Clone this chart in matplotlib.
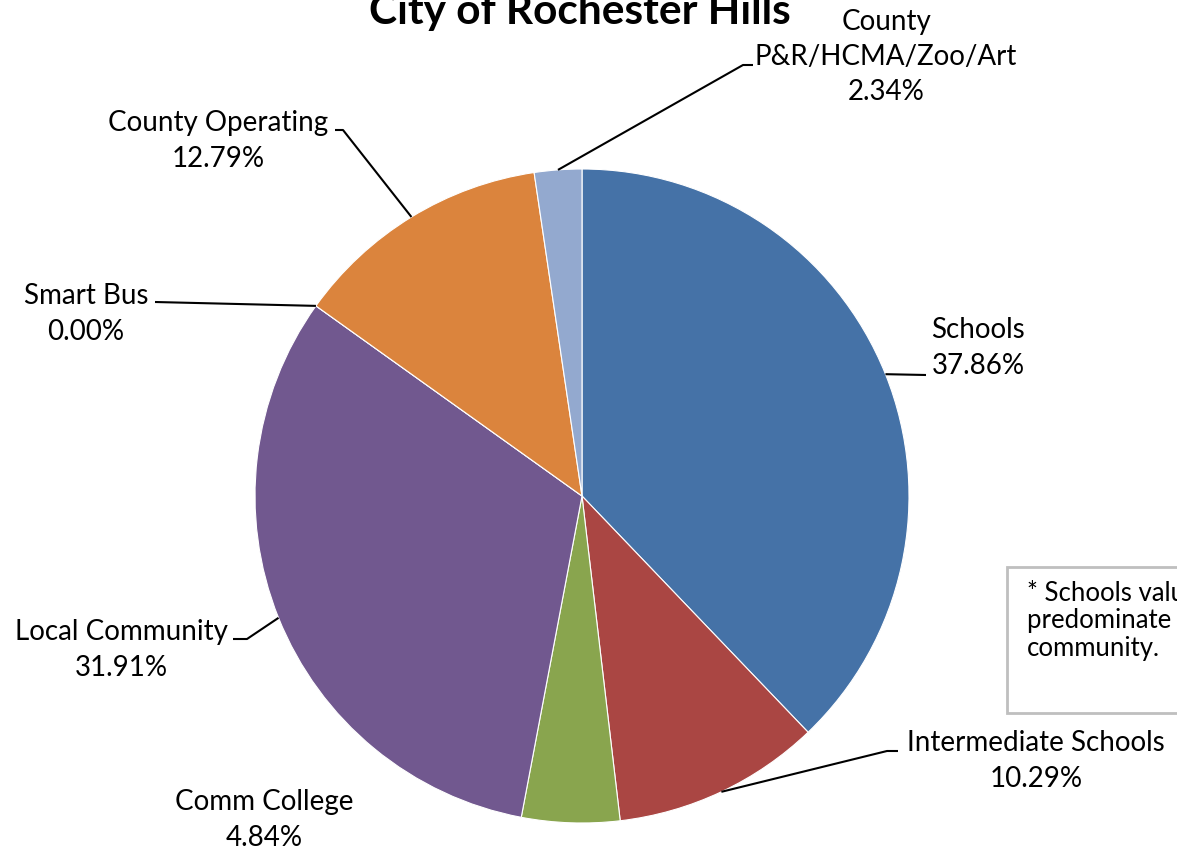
import matplotlib
matplotlib.use("Agg")
import matplotlib.pyplot as plt
import numpy as np
from matplotlib.patches import Rectangle

# ---- data ----
categories = ["Schools", "Intermediate Schools", "Comm College", "Local Community",
              "Smart Bus", "County Operating", "County\nP&R/HCMA/Zoo/Art"]
values = [37.86, 10.29, 4.84, 31.91, 0.00, 12.79, 2.34]
colors = ["#4572A7", "#AA4643", "#89A54E", "#71588F", "#4198AF", "#DB843D", "#93A9CF"]
title = "City of Rochester Hills"
note = "* Schools values are based on the\npredominate school district in the\ncommunity."

plt.rcParams['font.family'] = ['Lato', 'DejaVu Sans']

W, H = 1177, 854
fig = plt.figure(figsize=(W / 100, H / 100), dpi=100)
ax = fig.add_axes([0, 0, 1, 1])

def P(px, py):
    return px, H - py

cx, cy = P(582, 497)
R = 327
wedges, _ = ax.pie(values, colors=colors, startangle=90, counterclock=False,
                   center=(cx, cy), radius=R, normalize=True,
                   wedgeprops=dict(edgecolor='white', linewidth=0.8))
ax.set_xlim(0, W)
ax.set_ylim(0, H)
ax.set_aspect('equal')
ax.axis('off')

# label layout (pixel coords): text centre, leader path after anchor
layout = [
    ((978, 348), [(926, 376)]),
    ((1036, 761), [(887, 752), (898, 752)]),
    ((264, 820), None),
    ((121, 650), [(247, 640), (233, 640)]),
    ((86, 314), [(155, 303)]),
    ((218, 141), [(343, 131), (335, 131)]),
    ((886, 57), [(743, 66), (753, 66)]),
]

FS = 20
for w, cat, val, (tc, path) in zip(wedges, categories, values, layout):
    tx, ty = P(*tc)
    ax.text(tx, ty, f"{cat}\n{val:.2f}%", ha='center', va='center',
            fontsize=FS, color='black', linespacing=1.45)
    if path:
        mid = np.deg2rad((w.theta1 + w.theta2) / 2)
        ax_pt = (cx + R * np.cos(mid), cy + R * np.sin(mid))
        xs = [ax_pt[0]] + [p[0] for p in path]
        ys = [ax_pt[1]] + [H - p[1] for p in path]
        ax.plot(xs, ys, color='black', lw=1.5, solid_capstyle='butt')

# title
fig.text(580 / W, 1 - 24 / H, title, ha='center', va='baseline',
         fontsize=30.5, fontweight='bold', color='black')

# note box
bx0, by0 = P(1007, 714)
ax.add_patch(Rectangle((bx0, by0), 200, 146, facecolor='white',
                       edgecolor='#BFBFBF', lw=2, clip_on=False))
ax.text(1027, H - 581, note, ha='left', va='top', fontsize=18.5,
        color='black', linespacing=1.12)

fig.savefig("out.png", dpi=100)
